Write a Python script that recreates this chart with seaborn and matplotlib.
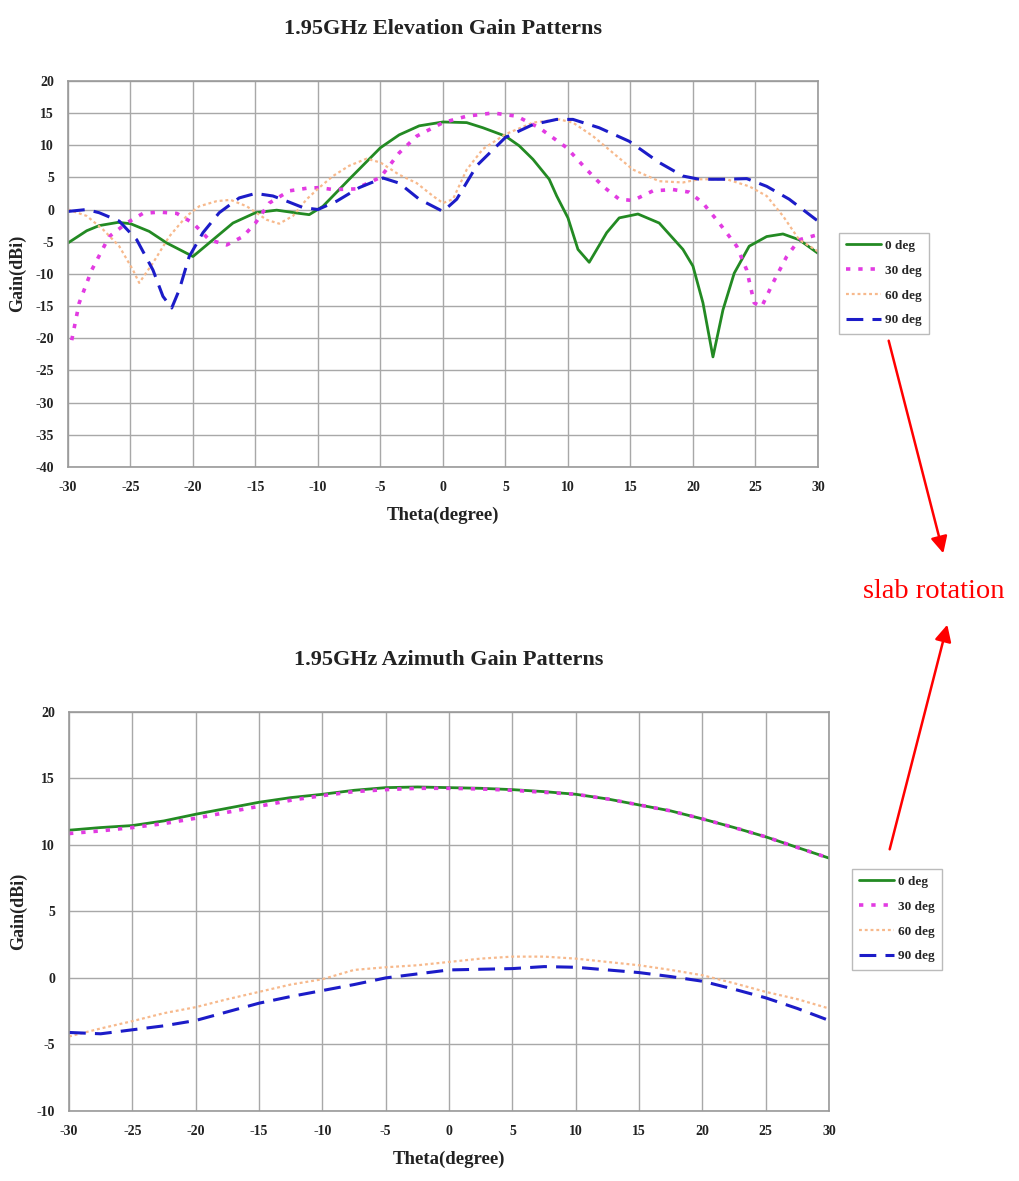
import matplotlib
matplotlib.use('Agg')
import matplotlib.pyplot as plt
import seaborn as sns
import pandas as pd

# ================= data =================
SERIES = ['0 deg', '30 deg', '60 deg', '90 deg']

# --- elevation pattern ---
el_x_0 = [-30, -28.5, -27.5, -26, -25, -23.5, -22.1, -20, -18.4, -16.8, -15, -13.3, -11.5, -10.7, -9.6,
          -7.5, -5, -3.5, -1.9, 0, 1.9, 3.2, 5, 6.1, 7.2, 8.5, 9.1, 10, 10.8, 11.7, 13.1, 14.1, 15.6,
          17.3, 19.2, 20, 20.8, 21.6, 22.4, 23.3, 24.5, 25.9, 27.2, 28.5, 30]
el_y_0 = [-5.2, -3.3, -2.5, -2.0, -2.2, -3.4, -5.2, -7.3, -4.7, -2.1, -0.5, -0.1, -0.6, -0.8, 0.5,
          4.7, 9.6, 11.6, 13.0, 13.6, 13.5, 12.7, 11.4, 9.9, 7.8, 4.7, 2.1, -1.3, -6.2, -8.2, -3.6,
          -1.3, -0.7, -2.1, -6.2, -8.8, -14.5, -22.9, -15.6, -9.9, -5.7, -4.2, -3.8, -4.7, -6.8]

el_x_30 = [-29.7, -29.1, -28.1, -26.7, -25.3, -24, -22.7, -21.3, -20, -18.7, -17.3, -16, -15, -13.9,
           -12.3, -10.9, -9.9, -8.8, -7, -5, -3.5, -2.1, 0, 1.9, 4, 5.9, 7.7, 9.9, 11.5, 12.8, 14.1,
           15.2, 16.8, 18.4, 19.7, 20.8, 22.1, 23.5, 24.3, 24.9, 25.5, 26.4, 27.5, 28.5, 30]
el_y_30 = [-20.3, -14.5, -9.4, -4.2, -2.1, -0.6, -0.4, -0.6, -2.1, -4.7, -5.5, -4.2, -2.1, 1.0,
           2.9, 3.3, 3.4, 3.1, 3.2, 5.0, 8.8, 11.4, 13.5, 14.5, 15.0, 14.5, 12.7, 9.6, 6.2, 3.6, 1.6,
           1.4, 2.9, 3.1, 2.7, 1.0, -2.1, -5.7, -9.4, -14.5, -15.1, -11.4, -7.3, -4.7, -3.9]

el_x_60 = [-30, -28.5, -27.2, -25.9, -24.8, -24.3, -23.2, -21.9, -20.5, -19.5, -18.1, -17, -15.7, -14.1,
           -13.1, -12, -10.9, -9.9, -8.8, -7.5, -6.1, -5, -3.5, -2.1, -0.8, 0, 0.8, 1.9, 3.2, 5, 7.2,
           9.3, 10.4, 12, 13.6, 15.2, 17.3, 19.2, 20.5, 22.7, 24.5, 25.9, 27.2, 28.5, 30]
el_y_60 = [0, -1.0, -3.1, -5.7, -9.4, -11.4, -8.3, -4.2, -1.0, 0.5, 1.3, 1.5, 0.5, -1.6,
           -2.2, -1.0, 1.6, 3.4, 5.2, 6.8, 7.9, 7.3, 5.4, 4.1, 2.1, 1.0, 1.6, 6.2, 9.4, 11.7, 13.5,
           14.0, 13.5, 11.4, 8.8, 6.2, 4.4, 4.2, 4.7, 4.7, 3.6, 2.1, -1.0, -4.7, -6.5]

el_x_90 = [-30, -28.5, -27.5, -25.9, -24.5, -23.2, -22.4, -21.7, -21.1, -20.3, -19.2, -17.9, -16.3, -15,
           -13.6, -12.5, -11.2, -10, -8.5, -6.7, -4.8, -3.5, -1.9, -0.8, 0, 1.1, 2.7, 5, 7.2, 9.1,
           10.4, 12.5, 14.9, 17.3, 19.2, 20.5, 22.7, 24.3, 25.9, 27.7, 30]
el_y_90 = [-0.3, 0, -0.5, -1.8, -4.7, -9.4, -13.5, -15.3, -12.5, -7.3, -3.6, -0.5, 1.8, 2.5,
           2.1, 1.3, 0.3, 0, 1.3, 3.4, 4.9, 4.1, 1.6, 0.5, -0.3, 1.6, 6.8, 11.2, 13.2, 14.0,
           14.0, 12.7, 10.6, 7.3, 5.2, 4.7, 4.7, 4.8, 3.6, 1.6, -1.8]

# --- azimuth pattern ---
az_x = [-30, -27.5, -25, -22.5, -20, -17.5, -15, -12.5, -10, -7.5, -5, -2.5, 0,
        2.5, 5, 7.5, 10, 12.5, 15, 17.5, 20, 22.5, 25, 27.5, 30]
az_y_0 = [11.1, 11.3, 11.45, 11.8, 12.3, 12.75, 13.2, 13.55, 13.8, 14.1, 14.3, 14.35, 14.3,
          14.25, 14.15, 14.0, 13.8, 13.45, 13.0, 12.55, 11.95, 11.3, 10.6, 9.8, 9.0]
az_y_30 = [10.85, 11.05, 11.3, 11.6, 12.0, 12.45, 12.9, 13.35, 13.7, 14.0, 14.15, 14.25, 14.25,
           14.2, 14.1, 13.95, 13.8, 13.45, 13.0, 12.55, 11.95, 11.3, 10.6, 9.8, 9.0]
az_y_60 = [-4.4, -3.8, -3.25, -2.65, -2.2, -1.6, -1.05, -0.5, -0.1, 0.6, 0.8, 0.95, 1.2,
           1.45, 1.6, 1.6, 1.45, 1.2, 0.95, 0.6, 0.2, -0.4, -1.05, -1.6, -2.3]
az_y_90 = [-4.1, -4.2, -3.9, -3.6, -3.2, -2.55, -1.9, -1.4, -0.95, -0.5, 0.0, 0.3, 0.6,
           0.65, 0.7, 0.85, 0.8, 0.6, 0.4, 0.1, -0.25, -0.85, -1.5, -2.3, -3.2]

x_ticks = list(range(-30, 31, 5))

# ================= style =================
STYLES = {
    '0 deg':  dict(color='#238a23', lw=2.0, ls='-'),
    '30 deg': dict(color='#e23be2', lw=2.6, ls=(0, (1.2, 2.2))),
    '60 deg': dict(color='#f7b98c', lw=1.6, ls=(0, (1.3, 1.3))),
    '90 deg': dict(color='#1c1cc8', lw=2.2, ls=(0, (5.5, 3))),
}

sns.set_style('white')
plt.rcParams['font.family'] = ['Liberation Serif', 'DejaVu Serif']
plt.rcParams['axes.unicode_minus'] = False
TXT = dict(fontweight='bold', color='#222222')


def draw_panel(ax, frames, ylim, yticks, title, legend_anchor):
    for name, df in frames.items():
        st = STYLES[name]
        sns.lineplot(data=df, x='theta', y='gain', ax=ax, color=st['color'], linewidth=st['lw'],
                     linestyle=st['ls'], label=name, errorbar=None, sort=False)
    ax.set_xlim(-30, 30)
    ax.set_ylim(*ylim)
    ax.set_xticks(x_ticks)
    ax.set_yticks(yticks)
    ax.grid(True, color='#a8a8a8', linewidth=1.0)
    ax.set_axisbelow(True)
    for s in ax.spines.values():
        s.set_color('#9a9a9a')
        s.set_linewidth(1.2)
    ax.tick_params(axis='both', length=0, pad=10, labelsize=10)
    for lab in ax.get_xticklabels() + ax.get_yticklabels():
        lab.set_fontweight('bold')
        lab.set_color('#222222')
    ax.set_xlabel('Theta(degree)', fontsize=13.5, labelpad=9, **TXT)
    ax.set_ylabel('Gain(dBi)', fontsize=13, labelpad=7, **TXT)
    ax.set_title(title, fontsize=16, pad=34, **TXT)
    leg = ax.legend(loc='upper left', bbox_to_anchor=legend_anchor, bbox_transform=fig.transFigure,
                    frameon=True, fancybox=False, prop={'family': 'Liberation Serif', 'weight': 'bold', 'size': 9.5},
                    handlelength=2.7, handletextpad=0.3, labelspacing=0.95, borderpad=0.55)
    leg.get_frame().set_edgecolor('#aaaaaa')
    leg.get_frame().set_linewidth(1.0)


fig = plt.figure(figsize=(10.19, 11.81), dpi=100)
ax_el = fig.add_axes([0.0667, 0.6046, 0.736, 0.327])
ax_az = fig.add_axes([0.0677, 0.0593, 0.746, 0.338])

el_frames = {
    '0 deg': pd.DataFrame({'theta': el_x_0, 'gain': el_y_0}),
    '30 deg': pd.DataFrame({'theta': el_x_30, 'gain': el_y_30}),
    '60 deg': pd.DataFrame({'theta': el_x_60, 'gain': el_y_60}),
    '90 deg': pd.DataFrame({'theta': el_x_90, 'gain': el_y_90}),
}
az_frames = {
    '0 deg': pd.DataFrame({'theta': az_x, 'gain': az_y_0}),
    '30 deg': pd.DataFrame({'theta': az_x, 'gain': az_y_30}),
    '60 deg': pd.DataFrame({'theta': az_x, 'gain': az_y_60}),
    '90 deg': pd.DataFrame({'theta': az_x, 'gain': az_y_90}),
}

draw_panel(ax_el, el_frames, (-40, 20), list(range(-40, 21, 5)),
           '1.95GHz Elevation Gain Patterns', (832 / 1019, 1 - 226 / 1181))
draw_panel(ax_az, az_frames, (-10, 20), list(range(-10, 21, 5)),
           '1.95GHz Azimuth Gain Patterns', (845 / 1019, 1 - 862 / 1181))

# red annotation with arrows
fig.text(934 / 1019, 1 - 592 / 1181, 'slab rotation', color='#ff0000', fontsize=20.5,
         family='Liberation Serif', ha='center', va='center')
fig.add_artist(matplotlib.patches.FancyArrowPatch(
    (888 / 1019, 1 - 338 / 1181), (944 / 1019, 1 - 556 / 1181), transform=fig.transFigure,
    arrowstyle='-|>,head_length=10,head_width=5', color='#ff0000', lw=1.8))
fig.add_artist(matplotlib.patches.FancyArrowPatch(
    (889 / 1019, 1 - 852 / 1181), (948 / 1019, 1 - 622 / 1181), transform=fig.transFigure,
    arrowstyle='-|>,head_length=10,head_width=5', color='#ff0000', lw=1.8))

fig.savefig('out.png', dpi=100, facecolor='white')
plt.close(fig)
